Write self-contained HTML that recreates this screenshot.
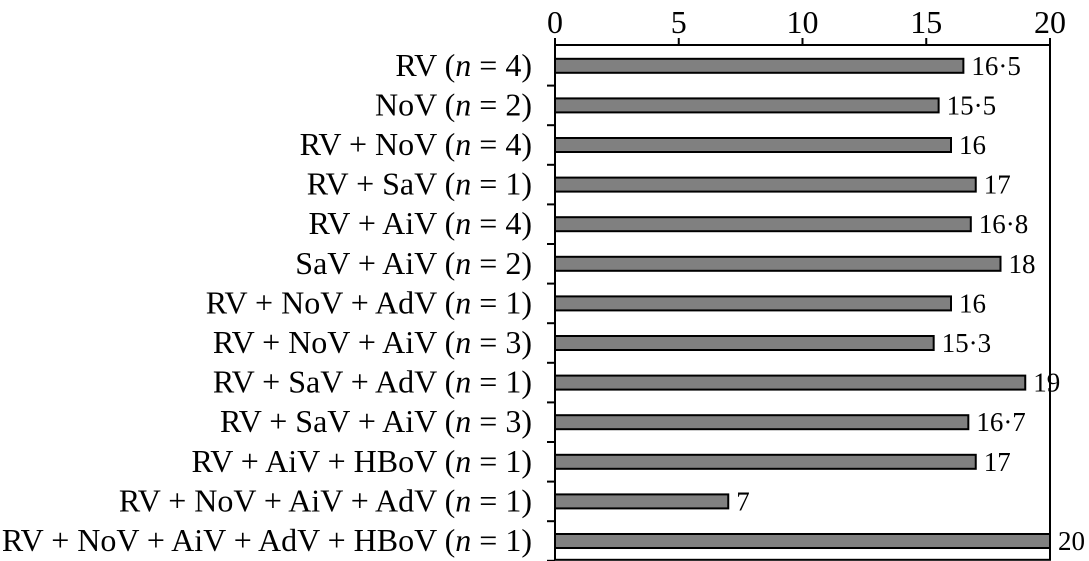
<!DOCTYPE html>
<html><head><meta charset="utf-8"><style>
body{margin:0;background:#fff}
svg{display:block;font-family:"Liberation Serif",serif}
</style></head><body>
<svg width="1089" height="561">
<g id="g"></g>
</svg>
<script>
const categories=["RV (n = 4)","NoV (n = 2)","RV + NoV (n = 4)","RV + SaV (n = 1)","RV + AiV (n = 4)","SaV + AiV (n = 2)","RV + NoV + AdV (n = 1)","RV + NoV + AiV (n = 3)","RV + SaV + AdV (n = 1)","RV + SaV + AiV (n = 3)","RV + AiV + HBoV (n = 1)","RV + NoV + AiV + AdV (n = 1)","RV + NoV + AiV + AdV + HBoV (n = 1)"];
const values=[16.5,15.5,16,17,16.8,18,16,15.3,19,16.7,17,7,20];
const valueLabels=["16·5","15·5","16","17","16·8","18","16","15·3","19","16·7","17","7","20"];
const ticks=[0,5,10,15,20];
{
const NS="http://www.w3.org/2000/svg";
const g=document.getElementById('g');
const x0=555,x1=1050,topY=46,rowH=39.6;
const xs=v=>x0+(x1-x0)*v/20;
function mk(t,a){const e=document.createElementNS(NS,t);for(const k in a)e.setAttribute(k,a[k]);g.appendChild(e);return e;}
const bottomY=topY+rowH*categories.length;
let f=mk('rect',{x:x0,y:topY-1,width:x1-x0,height:bottomY-topY,fill:'none',stroke:'#000','stroke-width':2});


ticks.forEach(t=>{
 let l=mk('line',{x1:xs(t),x2:xs(t),y1:topY-8,y2:topY,stroke:'#000','stroke-width':2});
 
 
 let tx=mk('text',{x:xs(t),y:topY-13,'text-anchor':'middle','font-size':32});
 tx.textContent=t;
 
 
});
categories.forEach((c,i)=>{
 const cy=topY+rowH*(i+0.5);
 let tk=mk('line',{x1:x0-8,x2:x0,y1:topY+rowH*(i+1),y2:topY+rowH*(i+1),stroke:'#000','stroke-width':2});
 
 
 let b=mk('rect',{x:x0,y:cy-7,width:xs(values[i])-x0,height:14,fill:'#808080',stroke:'#000','stroke-width':2});
 
 
 let v=mk('text',{x:xs(values[i])+8,y:cy+9,'font-size':27});
 v.textContent=valueLabels[i];
 
 
 let lb=mk('text',{x:532,y:cy+10,'text-anchor':'end','font-size':32});
 const m=c.match(/^(.*\()n( = \d\))$/);
 lb.innerHTML=m[1]+'<tspan font-style="italic">n</tspan>'+m[2];
 
 
});
}
</script>
</body></html>
